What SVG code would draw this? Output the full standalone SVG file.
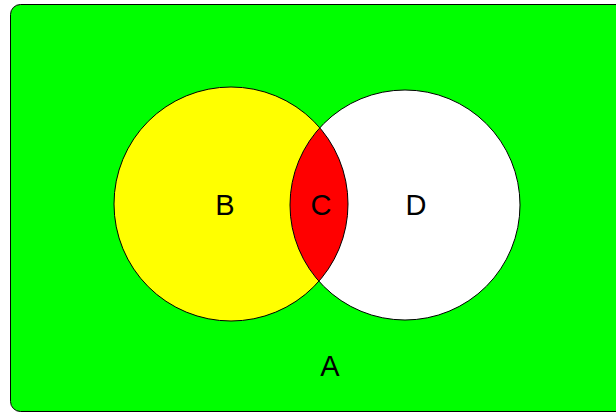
<svg xmlns="http://www.w3.org/2000/svg" width="616" height="413" viewBox="0 0 616 413">
<style>
.lbl{font-family:"Liberation Sans",Arial,sans-serif;font-size:29px;fill:#000;text-anchor:middle}
.ol{fill:none;stroke:#000;stroke-width:1}
</style>
<defs>
<clipPath id="clipD"><circle cx="405" cy="205" r="115"/></clipPath>
</defs>
<rect width="616" height="413" fill="#fff"/>
<g id="A">
<rect x="10.5" y="4.5" width="700" height="407" rx="10" fill="#00ff00" stroke="#000"/>
<text class="lbl" x="330" y="376">A</text>
</g>
<g id="B">
<circle cx="231" cy="204" r="117" fill="#ffff00"/>
</g>
<g id="D">
<circle cx="405" cy="205" r="115" fill="#fff"/>
</g>
<g id="C">
<circle cx="231" cy="204" r="117" fill="#ff0000" clip-path="url(#clipD)"/>
</g>
<g id="outlines">
<circle class="ol" cx="231" cy="204" r="117"/>
<circle class="ol" cx="405" cy="205" r="115"/>
</g>
<text class="lbl" x="225" y="215">B</text>
<text class="lbl" x="321" y="215">C</text>
<text class="lbl" x="416" y="215">D</text>
</svg>
